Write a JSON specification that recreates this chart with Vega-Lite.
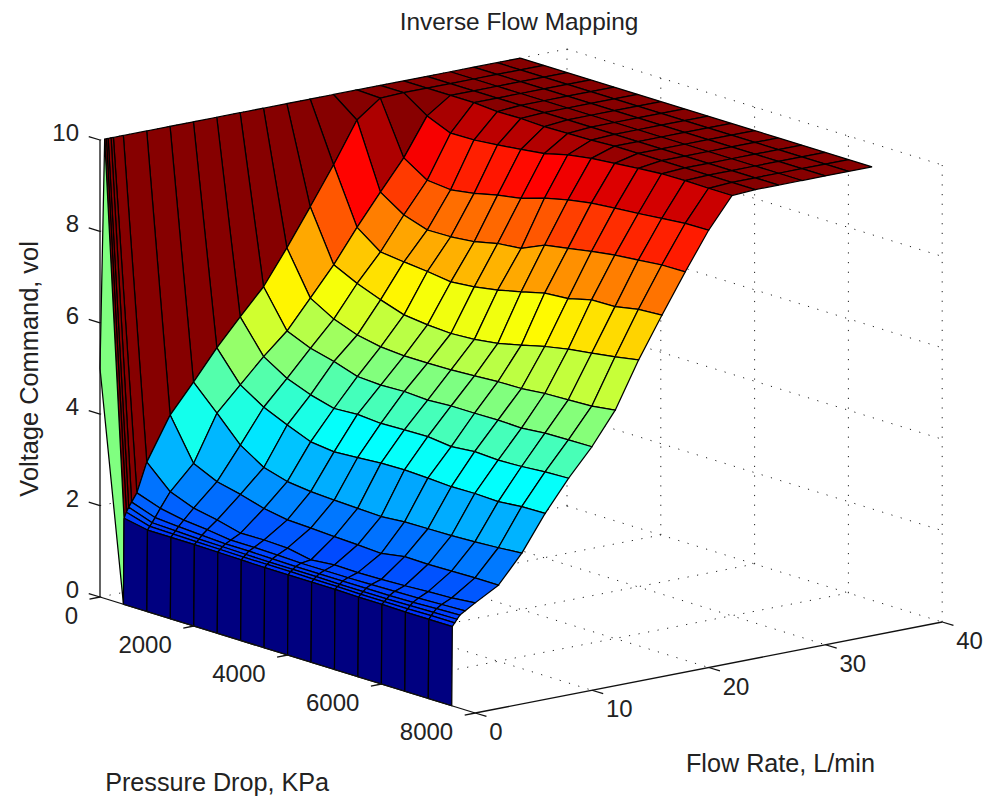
{"$schema":"https://vega.github.io/schema/vega-lite/v6.json","width":989,"height":798,"padding":0,"autosize":"none","background":"white","config":{"view":{"stroke":null},"font":"Liberation Sans"},
"title":{"text":"Inverse Flow Mapping","anchor":"middle","frame":"group","offset":-35,"dx":24.5,"fontSize":24.4,"fontWeight":"normal","font":"Liberation Sans","color":"#222222"},
"datasets":{
"surface":[
{"i":23,"j":0,"f":36,"p":0,"v":10},{"i":23,"j":1,"f":36,"p":500,"v":10},{"i":23,"j":2,"f":36,"p":1000,"v":10},{"i":23,"j":3,"f":36,"p":1500,"v":10},{"i":23,"j":4,"f":36,"p":2000,"v":10},{"i":23,"j":5,"f":36,"p":2500,"v":10},{"i":23,"j":6,"f":36,"p":3000,"v":10},{"i":23,"j":7,"f":36,"p":3500,"v":10},{"i":23,"j":8,"f":36,"p":4000,"v":10},{"i":23,"j":9,"f":36,"p":4500,"v":10},{"i":23,"j":10,"f":36,"p":5000,"v":10},{"i":23,"j":11,"f":36,"p":5500,"v":10},{"i":23,"j":12,"f":36,"p":6000,"v":10},{"i":23,"j":13,"f":36,"p":6500,"v":10},{"i":23,"j":14,"f":36,"p":7000,"v":10},{"i":23,"j":15,"f":36,"p":7500,"v":10},
{"i":22,"j":0,"f":34,"p":0,"v":10},{"i":22,"j":1,"f":34,"p":500,"v":10},{"i":22,"j":2,"f":34,"p":1000,"v":10},{"i":22,"j":3,"f":34,"p":1500,"v":10},{"i":22,"j":4,"f":34,"p":2000,"v":10},{"i":22,"j":5,"f":34,"p":2500,"v":10},{"i":22,"j":6,"f":34,"p":3000,"v":10},{"i":22,"j":7,"f":34,"p":3500,"v":10},{"i":22,"j":8,"f":34,"p":4000,"v":10},{"i":22,"j":9,"f":34,"p":4500,"v":10},{"i":22,"j":10,"f":34,"p":5000,"v":10},{"i":22,"j":11,"f":34,"p":5500,"v":10},{"i":22,"j":12,"f":34,"p":6000,"v":10},{"i":22,"j":13,"f":34,"p":6500,"v":10},{"i":22,"j":14,"f":34,"p":7000,"v":10},{"i":22,"j":15,"f":34,"p":7500,"v":10},
{"i":21,"j":0,"f":32,"p":0,"v":10},{"i":21,"j":1,"f":32,"p":500,"v":10},{"i":21,"j":2,"f":32,"p":1000,"v":10},{"i":21,"j":3,"f":32,"p":1500,"v":10},{"i":21,"j":4,"f":32,"p":2000,"v":10},{"i":21,"j":5,"f":32,"p":2500,"v":10},{"i":21,"j":6,"f":32,"p":3000,"v":10},{"i":21,"j":7,"f":32,"p":3500,"v":10},{"i":21,"j":8,"f":32,"p":4000,"v":10},{"i":21,"j":9,"f":32,"p":4500,"v":10},{"i":21,"j":10,"f":32,"p":5000,"v":10},{"i":21,"j":11,"f":32,"p":5500,"v":10},{"i":21,"j":12,"f":32,"p":6000,"v":10},{"i":21,"j":13,"f":32,"p":6500,"v":10},{"i":21,"j":14,"f":32,"p":7000,"v":10},{"i":21,"j":15,"f":32,"p":7500,"v":10},
{"i":20,"j":0,"f":30,"p":0,"v":10},{"i":20,"j":1,"f":30,"p":500,"v":10},{"i":20,"j":2,"f":30,"p":1000,"v":10},{"i":20,"j":3,"f":30,"p":1500,"v":10},{"i":20,"j":4,"f":30,"p":2000,"v":10},{"i":20,"j":5,"f":30,"p":2500,"v":10},{"i":20,"j":6,"f":30,"p":3000,"v":10},{"i":20,"j":7,"f":30,"p":3500,"v":10},{"i":20,"j":8,"f":30,"p":4000,"v":10},{"i":20,"j":9,"f":30,"p":4500,"v":10},{"i":20,"j":10,"f":30,"p":5000,"v":10},{"i":20,"j":11,"f":30,"p":5500,"v":10},{"i":20,"j":12,"f":30,"p":6000,"v":10},{"i":20,"j":13,"f":30,"p":6500,"v":10},{"i":20,"j":14,"f":30,"p":7000,"v":10},{"i":20,"j":15,"f":30,"p":7500,"v":10},
{"i":19,"j":0,"f":28,"p":0,"v":10},{"i":19,"j":1,"f":28,"p":500,"v":10},{"i":19,"j":2,"f":28,"p":1000,"v":10},{"i":19,"j":3,"f":28,"p":1500,"v":10},{"i":19,"j":4,"f":28,"p":2000,"v":10},{"i":19,"j":5,"f":28,"p":2500,"v":10},{"i":19,"j":6,"f":28,"p":3000,"v":10},{"i":19,"j":7,"f":28,"p":3500,"v":10},{"i":19,"j":8,"f":28,"p":4000,"v":10},{"i":19,"j":9,"f":28,"p":4500,"v":10},{"i":19,"j":10,"f":28,"p":5000,"v":10},{"i":19,"j":11,"f":28,"p":5500,"v":10},{"i":19,"j":12,"f":28,"p":6000,"v":10},{"i":19,"j":13,"f":28,"p":6500,"v":10},{"i":19,"j":14,"f":28,"p":7000,"v":10},{"i":19,"j":15,"f":28,"p":7500,"v":10},
{"i":18,"j":0,"f":26,"p":0,"v":10},{"i":18,"j":1,"f":26,"p":500,"v":10},{"i":18,"j":2,"f":26,"p":1000,"v":10},{"i":18,"j":3,"f":26,"p":1500,"v":10},{"i":18,"j":4,"f":26,"p":2000,"v":9.96},{"i":18,"j":5,"f":26,"p":2500,"v":9.97},{"i":18,"j":6,"f":26,"p":3000,"v":9.95},{"i":18,"j":7,"f":26,"p":3500,"v":9.96},{"i":18,"j":8,"f":26,"p":4000,"v":9.97},{"i":18,"j":9,"f":26,"p":4500,"v":10},{"i":18,"j":10,"f":26,"p":5000,"v":10},{"i":18,"j":11,"f":26,"p":5500,"v":10},{"i":18,"j":12,"f":26,"p":6000,"v":10},{"i":18,"j":13,"f":26,"p":6500,"v":10},{"i":18,"j":14,"f":26,"p":7000,"v":10},{"i":18,"j":15,"f":26,"p":7500,"v":10},
{"i":17,"j":0,"f":24,"p":0,"v":10},{"i":17,"j":1,"f":24,"p":500,"v":10},{"i":17,"j":2,"f":24,"p":1000,"v":9.65},{"i":17,"j":3,"f":24,"p":1500,"v":9.43},{"i":17,"j":4,"f":24,"p":2000,"v":9.44},{"i":17,"j":5,"f":24,"p":2500,"v":9.49},{"i":17,"j":6,"f":24,"p":3000,"v":9.55},{"i":17,"j":7,"f":24,"p":3500,"v":9.62},{"i":17,"j":8,"f":24,"p":4000,"v":9.75},{"i":17,"j":9,"f":24,"p":4500,"v":9.83},{"i":17,"j":10,"f":24,"p":5000,"v":9.88},{"i":17,"j":11,"f":24,"p":5500,"v":9.93},{"i":17,"j":12,"f":24,"p":6000,"v":9.97},{"i":17,"j":13,"f":24,"p":6500,"v":9.98},{"i":17,"j":14,"f":24,"p":7000,"v":9.97},{"i":17,"j":15,"f":24,"p":7500,"v":9.97},
{"i":16,"j":0,"f":22,"p":0,"v":10},{"i":16,"j":1,"f":22,"p":500,"v":9.98},{"i":16,"j":2,"f":22,"p":1000,"v":8.83},{"i":16,"j":3,"f":22,"p":1500,"v":8.5},{"i":16,"j":4,"f":22,"p":2000,"v":8.45},{"i":16,"j":5,"f":22,"p":2500,"v":8.53},{"i":16,"j":6,"f":22,"p":3000,"v":8.65},{"i":16,"j":7,"f":22,"p":3500,"v":8.74},{"i":16,"j":8,"f":22,"p":4000,"v":8.9},{"i":16,"j":9,"f":22,"p":4500,"v":9.02},{"i":16,"j":10,"f":22,"p":5000,"v":9.11},{"i":16,"j":11,"f":22,"p":5500,"v":9.16},{"i":16,"j":12,"f":22,"p":6000,"v":9.2},{"i":16,"j":13,"f":22,"p":6500,"v":9.25},{"i":16,"j":14,"f":22,"p":7000,"v":9.3},{"i":16,"j":15,"f":22,"p":7500,"v":9.31},
{"i":15,"j":0,"f":20,"p":0,"v":10},{"i":15,"j":1,"f":20,"p":500,"v":9.6},{"i":15,"j":2,"f":20,"p":1000,"v":8.18},{"i":15,"j":3,"f":20,"p":1500,"v":7.84},{"i":15,"j":4,"f":20,"p":2000,"v":7.67},{"i":15,"j":5,"f":20,"p":2500,"v":7.68},{"i":15,"j":6,"f":20,"p":3000,"v":7.73},{"i":15,"j":7,"f":20,"p":3500,"v":7.85},{"i":15,"j":8,"f":20,"p":4000,"v":7.9},{"i":15,"j":9,"f":20,"p":4500,"v":8.13},{"i":15,"j":10,"f":20,"p":5000,"v":8.22},{"i":15,"j":11,"f":20,"p":5500,"v":8.31},{"i":15,"j":12,"f":20,"p":6000,"v":8.39},{"i":15,"j":13,"f":20,"p":6500,"v":8.44},{"i":15,"j":14,"f":20,"p":7000,"v":8.49},{"i":15,"j":15,"f":20,"p":7500,"v":8.5},
{"i":14,"j":0,"f":18,"p":0,"v":10},{"i":14,"j":1,"f":18,"p":500,"v":8.72},{"i":14,"j":2,"f":18,"p":1000,"v":7.51},{"i":14,"j":3,"f":18,"p":1500,"v":7.13},{"i":14,"j":4,"f":18,"p":2000,"v":7.07},{"i":14,"j":5,"f":18,"p":2500,"v":7.02},{"i":14,"j":6,"f":18,"p":3000,"v":6.95},{"i":14,"j":7,"f":18,"p":3500,"v":7},{"i":14,"j":8,"f":18,"p":4000,"v":7.09},{"i":14,"j":9,"f":18,"p":4500,"v":7.21},{"i":14,"j":10,"f":18,"p":5000,"v":7.34},{"i":14,"j":11,"f":18,"p":5500,"v":7.38},{"i":14,"j":12,"f":18,"p":6000,"v":7.51},{"i":14,"j":13,"f":18,"p":6500,"v":7.52},{"i":14,"j":14,"f":18,"p":7000,"v":7.62},{"i":14,"j":15,"f":18,"p":7500,"v":7.65},
{"i":13,"j":0,"f":16,"p":0,"v":10},{"i":13,"j":1,"f":16,"p":500,"v":7.9},{"i":13,"j":2,"f":16,"p":1000,"v":6.79},{"i":13,"j":3,"f":16,"p":1500,"v":6.54},{"i":13,"j":4,"f":16,"p":2000,"v":6.34},{"i":13,"j":5,"f":16,"p":2500,"v":6.17},{"i":13,"j":6,"f":16,"p":3000,"v":6.11},{"i":13,"j":7,"f":16,"p":3500,"v":6.08},{"i":13,"j":8,"f":16,"p":4000,"v":6.11},{"i":13,"j":9,"f":16,"p":4500,"v":6.18},{"i":13,"j":10,"f":16,"p":5000,"v":6.3},{"i":13,"j":11,"f":16,"p":5500,"v":6.43},{"i":13,"j":12,"f":16,"p":6000,"v":6.53},{"i":13,"j":13,"f":16,"p":6500,"v":6.6},{"i":13,"j":14,"f":16,"p":7000,"v":6.68},{"i":13,"j":15,"f":16,"p":7500,"v":6.77},
{"i":12,"j":0,"f":14,"p":0,"v":10},{"i":12,"j":1,"f":14,"p":500,"v":7.1},{"i":12,"j":2,"f":14,"p":1000,"v":6.16},{"i":12,"j":3,"f":14,"p":1500,"v":5.86},{"i":12,"j":4,"f":14,"p":2000,"v":5.67},{"i":12,"j":5,"f":14,"p":2500,"v":5.57},{"i":12,"j":6,"f":14,"p":3000,"v":5.53},{"i":12,"j":7,"f":14,"p":3500,"v":5.53},{"i":12,"j":8,"f":14,"p":4000,"v":5.54},{"i":12,"j":9,"f":14,"p":4500,"v":5.57},{"i":12,"j":10,"f":14,"p":5000,"v":5.6},{"i":12,"j":11,"f":14,"p":5500,"v":5.61},{"i":12,"j":12,"f":14,"p":6000,"v":5.66},{"i":12,"j":13,"f":14,"p":6500,"v":5.68},{"i":12,"j":14,"f":14,"p":7000,"v":5.7},{"i":12,"j":15,"f":14,"p":7500,"v":5.77},
{"i":11,"j":0,"f":12,"p":0,"v":10},{"i":11,"j":1,"f":12,"p":500,"v":6.35},{"i":11,"j":2,"f":12,"p":1000,"v":5.54},{"i":11,"j":3,"f":12,"p":1500,"v":5.32},{"i":11,"j":4,"f":12,"p":2000,"v":5.19},{"i":11,"j":5,"f":12,"p":2500,"v":5.02},{"i":11,"j":6,"f":12,"p":3000,"v":4.99},{"i":11,"j":7,"f":12,"p":3500,"v":5.01},{"i":11,"j":8,"f":12,"p":4000,"v":4.98},{"i":11,"j":9,"f":12,"p":4500,"v":5.01},{"i":11,"j":10,"f":12,"p":5000,"v":5.01},{"i":11,"j":11,"f":12,"p":5500,"v":5.02},{"i":11,"j":12,"f":12,"p":6000,"v":5},{"i":11,"j":13,"f":12,"p":6500,"v":5.05},{"i":11,"j":14,"f":12,"p":7000,"v":5.06},{"i":11,"j":15,"f":12,"p":7500,"v":5.07},
{"i":10,"j":0,"f":10,"p":0,"v":10},{"i":10,"j":1,"f":10,"p":500,"v":5.79},{"i":10,"j":2,"f":10,"p":1000,"v":5.08},{"i":10,"j":3,"f":10,"p":1500,"v":4.76},{"i":10,"j":4,"f":10,"p":2000,"v":4.56},{"i":10,"j":5,"f":10,"p":2500,"v":4.42},{"i":10,"j":6,"f":10,"p":3000,"v":4.45},{"i":10,"j":7,"f":10,"p":3500,"v":4.41},{"i":10,"j":8,"f":10,"p":4000,"v":4.43},{"i":10,"j":9,"f":10,"p":4500,"v":4.44},{"i":10,"j":10,"f":10,"p":5000,"v":4.38},{"i":10,"j":11,"f":10,"p":5500,"v":4.43},{"i":10,"j":12,"f":10,"p":6000,"v":4.4},{"i":10,"j":13,"f":10,"p":6500,"v":4.42},{"i":10,"j":14,"f":10,"p":7000,"v":4.46},{"i":10,"j":15,"f":10,"p":7500,"v":4.48},
{"i":9,"j":0,"f":8,"p":0,"v":10},{"i":9,"j":1,"f":8,"p":500,"v":5.21},{"i":9,"j":2,"f":8,"p":1000,"v":4.56},{"i":9,"j":3,"f":8,"p":1500,"v":4.23},{"i":9,"j":4,"f":8,"p":2000,"v":4},{"i":9,"j":5,"f":8,"p":2500,"v":3.79},{"i":9,"j":6,"f":8,"p":3000,"v":3.73},{"i":9,"j":7,"f":8,"p":3500,"v":3.76},{"i":9,"j":8,"f":8,"p":4000,"v":3.8},{"i":9,"j":9,"f":8,"p":4500,"v":3.81},{"i":9,"j":10,"f":8,"p":5000,"v":3.79},{"i":9,"j":11,"f":8,"p":5500,"v":3.76},{"i":9,"j":12,"f":8,"p":6000,"v":3.77},{"i":9,"j":13,"f":8,"p":6500,"v":3.75},{"i":9,"j":14,"f":8,"p":7000,"v":3.8},{"i":9,"j":15,"f":8,"p":7500,"v":3.81},
{"i":8,"j":0,"f":6,"p":0,"v":10},{"i":8,"j":1,"f":6,"p":500,"v":4.56},{"i":8,"j":2,"f":6,"p":1000,"v":4.04},{"i":8,"j":3,"f":6,"p":1500,"v":3.5},{"i":8,"j":4,"f":6,"p":2000,"v":3.17},{"i":8,"j":5,"f":6,"p":2500,"v":3.02},{"i":8,"j":6,"f":6,"p":3000,"v":2.96},{"i":8,"j":7,"f":6,"p":3500,"v":2.93},{"i":8,"j":8,"f":6,"p":4000,"v":2.91},{"i":8,"j":9,"f":6,"p":4500,"v":2.89},{"i":8,"j":10,"f":6,"p":5000,"v":2.93},{"i":8,"j":11,"f":6,"p":5500,"v":2.94},{"i":8,"j":12,"f":6,"p":6000,"v":2.95},{"i":8,"j":13,"f":6,"p":6500,"v":2.97},{"i":8,"j":14,"f":6,"p":7000,"v":3},{"i":8,"j":15,"f":6,"p":7500,"v":3.04},
{"i":7,"j":0,"f":4,"p":0,"v":10},{"i":7,"j":1,"f":4,"p":500,"v":3.94},{"i":7,"j":2,"f":4,"p":1000,"v":3.04},{"i":7,"j":3,"f":4,"p":1500,"v":2.8},{"i":7,"j":4,"f":4,"p":2000,"v":2.68},{"i":7,"j":5,"f":4,"p":2500,"v":2.53},{"i":7,"j":6,"f":4,"p":3000,"v":2.44},{"i":7,"j":7,"f":4,"p":3500,"v":2.42},{"i":7,"j":8,"f":4,"p":4000,"v":2.39},{"i":7,"j":9,"f":4,"p":4500,"v":2.37},{"i":7,"j":10,"f":4,"p":5000,"v":2.34},{"i":7,"j":11,"f":4,"p":5500,"v":2.43},{"i":7,"j":12,"f":4,"p":6000,"v":2.42},{"i":7,"j":13,"f":4,"p":6500,"v":2.43},{"i":7,"j":14,"f":4,"p":7000,"v":2.44},{"i":7,"j":15,"f":4,"p":7500,"v":2.44},
{"i":6,"j":0,"f":2,"p":0,"v":10},{"i":6,"j":1,"f":2,"p":500,"v":3.01},{"i":6,"j":2,"f":2,"p":1000,"v":2.52},{"i":6,"j":3,"f":2,"p":1500,"v":2.32},{"i":6,"j":4,"f":2,"p":2000,"v":2.22},{"i":6,"j":5,"f":2,"p":2500,"v":2.09},{"i":6,"j":6,"f":2,"p":3000,"v":2.1},{"i":6,"j":7,"f":2,"p":3500,"v":2.08},{"i":6,"j":8,"f":2,"p":4000,"v":1.98},{"i":6,"j":9,"f":2,"p":4500,"v":2.03},{"i":6,"j":10,"f":2,"p":5000,"v":2.02},{"i":6,"j":11,"f":2,"p":5500,"v":2.03},{"i":6,"j":12,"f":2,"p":6000,"v":2.05},{"i":6,"j":13,"f":2,"p":6500,"v":2.08},{"i":6,"j":14,"f":2,"p":7000,"v":2.1},{"i":6,"j":15,"f":2,"p":7500,"v":2.15},
{"i":5,"j":0,"f":1.15,"p":0,"v":10},{"i":5,"j":1,"f":1.15,"p":500,"v":2.38},{"i":5,"j":2,"f":1.15,"p":1000,"v":2.2},{"i":5,"j":3,"f":1.15,"p":1500,"v":2.1},{"i":5,"j":4,"f":1.15,"p":2000,"v":2.05},{"i":5,"j":5,"f":1.15,"p":2500,"v":1.98},{"i":5,"j":6,"f":1.15,"p":3000,"v":1.98},{"i":5,"j":7,"f":1.15,"p":3500,"v":1.97},{"i":5,"j":8,"f":1.15,"p":4000,"v":1.95},{"i":5,"j":9,"f":1.15,"p":4500,"v":1.95},{"i":5,"j":10,"f":1.15,"p":5000,"v":1.95},{"i":5,"j":11,"f":1.15,"p":5500,"v":1.96},{"i":5,"j":12,"f":1.15,"p":6000,"v":1.97},{"i":5,"j":13,"f":1.15,"p":6500,"v":1.98},{"i":5,"j":14,"f":1.15,"p":7000,"v":2},{"i":5,"j":15,"f":1.15,"p":7500,"v":2.02},
{"i":4,"j":0,"f":0.95,"p":0,"v":10},{"i":4,"j":1,"f":0.7,"p":500,"v":2.2},{"i":4,"j":2,"f":0.7,"p":1000,"v":2.02},{"i":4,"j":3,"f":0.7,"p":1500,"v":1.98},{"i":4,"j":4,"f":0.7,"p":2000,"v":1.95},{"i":4,"j":5,"f":0.7,"p":2500,"v":1.92},{"i":4,"j":6,"f":0.7,"p":3000,"v":1.92},{"i":4,"j":7,"f":0.7,"p":3500,"v":1.91},{"i":4,"j":8,"f":0.7,"p":4000,"v":1.9},{"i":4,"j":9,"f":0.7,"p":4500,"v":1.9},{"i":4,"j":10,"f":0.7,"p":5000,"v":1.9},{"i":4,"j":11,"f":0.7,"p":5500,"v":1.9},{"i":4,"j":12,"f":0.7,"p":6000,"v":1.9},{"i":4,"j":13,"f":0.7,"p":6500,"v":1.91},{"i":4,"j":14,"f":0.7,"p":7000,"v":1.93},{"i":4,"j":15,"f":0.7,"p":7500,"v":1.95},
{"i":3,"j":0,"f":0.7,"p":0,"v":10},{"i":3,"j":1,"f":0.45,"p":500,"v":2.1},{"i":3,"j":2,"f":0.45,"p":1000,"v":1.92},{"i":3,"j":3,"f":0.45,"p":1500,"v":1.9},{"i":3,"j":4,"f":0.45,"p":2000,"v":1.88},{"i":3,"j":5,"f":0.45,"p":2500,"v":1.87},{"i":3,"j":6,"f":0.45,"p":3000,"v":1.86},{"i":3,"j":7,"f":0.45,"p":3500,"v":1.85},{"i":3,"j":8,"f":0.45,"p":4000,"v":1.85},{"i":3,"j":9,"f":0.45,"p":4500,"v":1.85},{"i":3,"j":10,"f":0.45,"p":5000,"v":1.84},{"i":3,"j":11,"f":0.45,"p":5500,"v":1.84},{"i":3,"j":12,"f":0.45,"p":6000,"v":1.84},{"i":3,"j":13,"f":0.45,"p":6500,"v":1.85},{"i":3,"j":14,"f":0.45,"p":7000,"v":1.86},{"i":3,"j":15,"f":0.45,"p":7500,"v":1.87},
{"i":2,"j":0,"f":0.55,"p":0,"v":10},{"i":2,"j":1,"f":0.25,"p":500,"v":2},{"i":2,"j":2,"f":0.25,"p":1000,"v":1.85},{"i":2,"j":3,"f":0.25,"p":1500,"v":1.84},{"i":2,"j":4,"f":0.25,"p":2000,"v":1.83},{"i":2,"j":5,"f":0.25,"p":2500,"v":1.82},{"i":2,"j":6,"f":0.25,"p":3000,"v":1.81},{"i":2,"j":7,"f":0.25,"p":3500,"v":1.81},{"i":2,"j":8,"f":0.25,"p":4000,"v":1.81},{"i":2,"j":9,"f":0.25,"p":4500,"v":1.8},{"i":2,"j":10,"f":0.25,"p":5000,"v":1.8},{"i":2,"j":11,"f":0.25,"p":5500,"v":1.79},{"i":2,"j":12,"f":0.25,"p":6000,"v":1.79},{"i":2,"j":13,"f":0.25,"p":6500,"v":1.79},{"i":2,"j":14,"f":0.25,"p":7000,"v":1.8},{"i":2,"j":15,"f":0.25,"p":7500,"v":1.8},
{"i":1,"j":0,"f":0.4,"p":0,"v":10},{"i":1,"j":1,"f":0.05,"p":500,"v":1.88},{"i":1,"j":2,"f":0.05,"p":1000,"v":1.78},{"i":1,"j":3,"f":0.05,"p":1500,"v":1.78},{"i":1,"j":4,"f":0.05,"p":2000,"v":1.78},{"i":1,"j":5,"f":0.05,"p":2500,"v":1.77},{"i":1,"j":6,"f":0.05,"p":3000,"v":1.76},{"i":1,"j":7,"f":0.05,"p":3500,"v":1.75},{"i":1,"j":8,"f":0.05,"p":4000,"v":1.75},{"i":1,"j":9,"f":0.05,"p":4500,"v":1.75},{"i":1,"j":10,"f":0.05,"p":5000,"v":1.75},{"i":1,"j":11,"f":0.05,"p":5500,"v":1.74},{"i":1,"j":12,"f":0.05,"p":6000,"v":1.74},{"i":1,"j":13,"f":0.05,"p":6500,"v":1.73},{"i":1,"j":14,"f":0.05,"p":7000,"v":1.73},{"i":1,"j":15,"f":0.05,"p":7500,"v":1.73},
{"i":0,"j":0,"f":0,"p":0,"v":5},{"i":0,"j":1,"f":0,"p":500,"v":0},{"i":0,"j":2,"f":0,"p":1000,"v":0},{"i":0,"j":3,"f":0,"p":1500,"v":0},{"i":0,"j":4,"f":0,"p":2000,"v":0},{"i":0,"j":5,"f":0,"p":2500,"v":0},{"i":0,"j":6,"f":0,"p":3000,"v":0},{"i":0,"j":7,"f":0,"p":3500,"v":0},{"i":0,"j":8,"f":0,"p":4000,"v":0},{"i":0,"j":9,"f":0,"p":4500,"v":0},{"i":0,"j":10,"f":0,"p":5000,"v":0},{"i":0,"j":11,"f":0,"p":5500,"v":0},{"i":0,"j":12,"f":0,"p":6000,"v":0},{"i":0,"j":13,"f":0,"p":6500,"v":0},{"i":0,"j":14,"f":0,"p":7000,"v":0},{"i":0,"j":15,"f":0,"p":7500,"v":0}
],
"grid":[
{"s":"a10","f":10,"p":0,"v":0},{"s":"a10","f":10,"p":8000,"v":0},{"s":"a20","f":20,"p":0,"v":0},{"s":"a20","f":20,"p":8000,"v":0},{"s":"a30","f":30,"p":0,"v":0},{"s":"a30","f":30,"p":8000,"v":0},{"s":"a40","f":40,"p":0,"v":0},{"s":"a40","f":40,"p":8000,"v":0},
{"s":"b0","f":0,"p":0,"v":0},{"s":"b0","f":40,"p":0,"v":0},{"s":"b2","f":0,"p":2000,"v":0},{"s":"b2","f":40,"p":2000,"v":0},{"s":"b4","f":0,"p":4000,"v":0},{"s":"b4","f":40,"p":4000,"v":0},{"s":"b6","f":0,"p":6000,"v":0},{"s":"b6","f":40,"p":6000,"v":0},
{"s":"c0","f":40,"p":0,"v":0},{"s":"c0","f":40,"p":0,"v":10},{"s":"c2","f":40,"p":2000,"v":0},{"s":"c2","f":40,"p":2000,"v":10},{"s":"c4","f":40,"p":4000,"v":0},{"s":"c4","f":40,"p":4000,"v":10},{"s":"c6","f":40,"p":6000,"v":0},{"s":"c6","f":40,"p":6000,"v":10},{"s":"c8","f":40,"p":8000,"v":0},{"s":"c8","f":40,"p":8000,"v":10},
{"s":"d2","f":40,"p":0,"v":2},{"s":"d2","f":40,"p":8000,"v":2},{"s":"d4","f":40,"p":0,"v":4},{"s":"d4","f":40,"p":8000,"v":4},{"s":"d6","f":40,"p":0,"v":6},{"s":"d6","f":40,"p":8000,"v":6},{"s":"d8","f":40,"p":0,"v":8},{"s":"d8","f":40,"p":8000,"v":8},{"s":"d10","f":40,"p":0,"v":10},{"s":"d10","f":40,"p":8000,"v":10},
{"s":"e10","f":10,"p":0,"v":0},{"s":"e10","f":10,"p":0,"v":10},{"s":"e20","f":20,"p":0,"v":0},{"s":"e20","f":20,"p":0,"v":10},{"s":"e30","f":30,"p":0,"v":0},{"s":"e30","f":30,"p":0,"v":10},
{"s":"g2","f":0,"p":0,"v":2},{"s":"g2","f":40,"p":0,"v":2},{"s":"g4","f":0,"p":0,"v":4},{"s":"g4","f":40,"p":0,"v":4},{"s":"g6","f":0,"p":0,"v":6},{"s":"g6","f":40,"p":0,"v":6},{"s":"g8","f":0,"p":0,"v":8},{"s":"g8","f":40,"p":0,"v":8},{"s":"g10","f":0,"p":0,"v":10},{"s":"g10","f":40,"p":0,"v":10}
],
"axes":[
{"s":"voltage","f":0,"p":0,"v":0},{"s":"voltage","f":0,"p":0,"v":10},{"s":"pressure","f":0,"p":0,"v":0},{"s":"pressure","f":0,"p":8000,"v":0},{"s":"flow","f":0,"p":8000,"v":0},{"s":"flow","f":40,"p":8000,"v":0},
{"s":"tv0","f":0,"p":0,"v":0},{"s":"tv0","f":0,"p":-240,"v":0},{"s":"tv2","f":0,"p":0,"v":2},{"s":"tv2","f":0,"p":-240,"v":2},{"s":"tv4","f":0,"p":0,"v":4},{"s":"tv4","f":0,"p":-240,"v":4},{"s":"tv6","f":0,"p":0,"v":6},{"s":"tv6","f":0,"p":-240,"v":6},{"s":"tv8","f":0,"p":0,"v":8},{"s":"tv8","f":0,"p":-240,"v":8},{"s":"tv10","f":0,"p":0,"v":10},{"s":"tv10","f":0,"p":-240,"v":10},
{"s":"tp0","f":0,"p":0,"v":0},{"s":"tp0","f":-0.9,"p":0,"v":0},{"s":"tp2","f":0,"p":2000,"v":0},{"s":"tp2","f":-0.9,"p":2000,"v":0},{"s":"tp4","f":0,"p":4000,"v":0},{"s":"tp4","f":-0.9,"p":4000,"v":0},{"s":"tp6","f":0,"p":6000,"v":0},{"s":"tp6","f":-0.9,"p":6000,"v":0},{"s":"tp8","f":0,"p":8000,"v":0},{"s":"tp8","f":-0.9,"p":8000,"v":0},
{"s":"tf0","f":0,"p":8000,"v":0},{"s":"tf0","f":0,"p":8240,"v":0},{"s":"tf10","f":10,"p":8000,"v":0},{"s":"tf10","f":10,"p":8240,"v":0},{"s":"tf20","f":20,"p":8000,"v":0},{"s":"tf20","f":20,"p":8240,"v":0},{"s":"tf30","f":30,"p":8000,"v":0},{"s":"tf30","f":30,"p":8240,"v":0},{"s":"tf40","f":40,"p":8000,"v":0},{"s":"tf40","f":40,"p":8240,"v":0}
]},
"encoding":{"x":{"field":"sx","type":"quantitative","scale":{"domain":[0,989],"nice":false,"zero":false},"axis":null},"y":{"field":"sy","type":"quantitative","scale":{"domain":[798,0],"nice":false,"zero":false},"axis":null}},
"layer":[
{"data":{"name":"grid"},"transform":[{"calculate":"100+0.0469*datum.p+11.675*datum.f","as":"sx"},{"calculate":"597+0.0145*datum.p-2.275*datum.f-45.7*datum.v","as":"sy"}],"mark":{"type":"line","stroke":"#222222","strokeWidth":1,"strokeDash":[1.2,8.5]},"encoding":{"detail":{"field":"s"}}},
{"data":{"name":"surface"},"transform":[
{"calculate":"[0,4,1,2,3]","as":"c"},{"flatten":["c"]},
{"calculate":"datum.c==0||datum.c==4||datum.c==1?datum.i-1:datum.i","as":"ci"},
{"calculate":"datum.c==1||datum.c==2?datum.j-1:datum.j","as":"cj"},
{"filter":"datum.ci>=0&&datum.ci<23&&datum.cj>=0&&datum.cj<15"},
{"calculate":"datum.ci*100+datum.cj","as":"cell"},
{"calculate":"datum.c==3?datum.v:null","as":"cv"},
{"joinaggregate":[{"op":"max","field":"cv","as":"cellColor"}],"groupby":["cell"]},
{"calculate":"100+0.0469*datum.p+11.675*datum.f","as":"sx"},{"calculate":"597+0.0145*datum.p-2.275*datum.f-45.7*datum.v","as":"sy"}],
"mark":{"type":"line","stroke":"black","strokeWidth":1.25,"strokeJoin":"miter"},
"encoding":{"detail":{"field":"cell","type":"nominal"},"order":{"field":"c","type":"quantitative"},"fill":{"field":"cellColor","type":"quantitative","legend":null,"scale":{"domain":[0,1.25,3.75,6.25,8.75,10],"range":["#000080","#0000ff","#00ffff","#ffff00","#ff0000","#860000"],"interpolate":"rgb"}}}},
{"data":{"name":"axes"},"transform":[{"calculate":"100+0.0469*datum.p+11.675*datum.f","as":"sx"},{"calculate":"597+0.0145*datum.p-2.275*datum.f-45.7*datum.v","as":"sy"}],"mark":{"type":"line","stroke":"#111111","strokeWidth":1.3},"encoding":{"detail":{"field":"s"}}},
{"data":{"values":[{"t":"0","f":0,"p":0,"v":0},{"t":"2","f":0,"p":0,"v":2},{"t":"4","f":0,"p":0,"v":4},{"t":"6","f":0,"p":0,"v":6},{"t":"8","f":0,"p":0,"v":8},{"t":"10","f":0,"p":0,"v":10}]},"transform":[{"calculate":"100+0.0469*datum.p+11.675*datum.f","as":"sx"},{"calculate":"597+0.0145*datum.p-2.275*datum.f-45.7*datum.v","as":"sy"}],"mark":{"type":"text","align":"right","baseline":"middle","dx":-21,"dy":-6,"fontSize":24,"font":"Liberation Sans","color":"#222222"},"encoding":{"text":{"field":"t"}}},
{"data":{"values":[{"t":"0","f":0,"p":0,"v":0},{"t":"2000","f":0,"p":2000,"v":0},{"t":"4000","f":0,"p":4000,"v":0},{"t":"6000","f":0,"p":6000,"v":0},{"t":"8000","f":0,"p":8000,"v":0}]},"transform":[{"calculate":"100+0.0469*datum.p+11.675*datum.f","as":"sx"},{"calculate":"597+0.0145*datum.p-2.275*datum.f-45.7*datum.v","as":"sy"}],"mark":{"type":"text","align":"right","baseline":"middle","dx":-22,"dy":20,"fontSize":24,"font":"Liberation Sans","color":"#222222"},"encoding":{"text":{"field":"t"}}},
{"data":{"values":[{"t":"0","f":0,"p":8000,"v":0},{"t":"10","f":10,"p":8000,"v":0},{"t":"20","f":20,"p":8000,"v":0},{"t":"30","f":30,"p":8000,"v":0},{"t":"40","f":40,"p":8000,"v":0}]},"transform":[{"calculate":"100+0.0469*datum.p+11.675*datum.f","as":"sx"},{"calculate":"597+0.0145*datum.p-2.275*datum.f-45.7*datum.v","as":"sy"}],"mark":{"type":"text","align":"left","baseline":"middle","dx":14,"dy":20,"fontSize":24,"font":"Liberation Sans","color":"#222222"},"encoding":{"text":{"field":"t"}}},
{"data":{"values":[{"t":"Pressure Drop, KPa","f":-25.4,"p":8820,"v":0},{"t":"Flow Rate, L/min","f":7.37,"p":12674,"v":0}]},"transform":[{"calculate":"100+0.0469*datum.p+11.675*datum.f","as":"sx"},{"calculate":"597+0.0145*datum.p-2.275*datum.f-45.7*datum.v","as":"sy"}],"mark":{"type":"text","align":"center","baseline":"middle","fontSize":25.2,"font":"Liberation Sans","color":"#222222"},"encoding":{"text":{"field":"t"}}},
{"data":{"values":[{"t":"Voltage Command, vol","f":-6,"p":0,"v":5.29}]},"transform":[{"calculate":"100+0.0469*datum.p+11.675*datum.f","as":"sx"},{"calculate":"597+0.0145*datum.p-2.275*datum.f-45.7*datum.v","as":"sy"}],"mark":{"type":"text","align":"center","baseline":"middle","angle":270,"fontSize":25.4,"font":"Liberation Sans","color":"#222222"},"encoding":{"text":{"field":"t"}}}
]}
